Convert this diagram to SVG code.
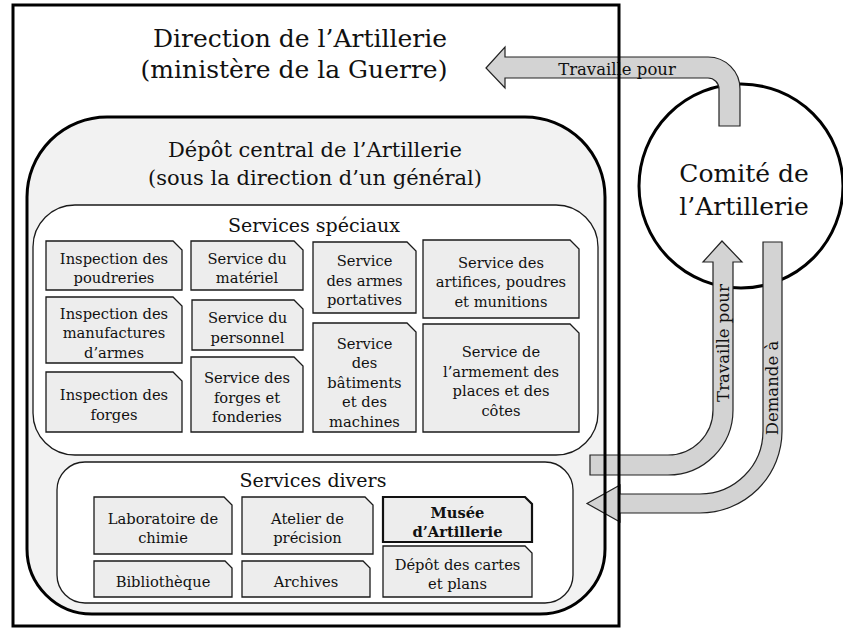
<svg xmlns="http://www.w3.org/2000/svg" width="843" height="628" viewBox="0 0 843 628">
<style>
.t{font-family:'DejaVu Serif','Liberation Serif',serif;font-size:14.7px;text-anchor:middle;fill:#111}
.b{font-weight:bold}
.h1{font-size:25px}
.h2{font-size:21px}
.h3{font-size:19px}
.al{font-size:16.5px}
.box{fill:#ededed;stroke:#1a1a1a;stroke-width:1.3}
.boxb{fill:#ededed;stroke:#111;stroke-width:2.2}
.grp{fill:#fff;stroke:#1a1a1a;stroke-width:1.3}
.arrow{fill:#d3d3d3;stroke:#222;stroke-width:1.2}
.thick{fill:none;stroke:#000;stroke-width:3}
</style>
<rect x="0" y="0" width="843" height="628" fill="#fff"/>

<g id="direction">
<rect x="13" y="5" width="606" height="621" fill="#fff"/>
<text class="t h1" x="300" y="47">Direction de l’Artillerie</text>
<text class="t h1" x="294" y="78">(ministère de la Guerre)</text>
</g>

<g id="depot-central">
<path d="M107,117 H525 A80,80 0 0 1 605,197 V549 A65,65 0 0 1 540,614 H92 A65,65 0 0 1 27,549 V197 A80,80 0 0 1 107,117 Z" fill="#f2f2f2"/>
<text class="t h2" x="315" y="157">Dépôt central de l’Artillerie</text>
<text class="t h2" x="315" y="185">(sous la direction d’un général)</text>
</g>

<g id="services-speciaux">
<rect class="grp" x="33" y="205" width="565" height="250" rx="42" ry="42"/>
<text class="t h3" x="314" y="232">Services spéciaux</text>
</g>

<g id="inspection-poudreries">
<path class="box" d="M46,241 H173 L182,250 V290 H46 Z"/>
<text class="t"><tspan x="114" y="263.5">Inspection des</tspan><tspan x="114" y="283">poudreries</tspan></text>
</g>
<g id="inspection-manufactures">
<path class="box" d="M46,297 H173 L182,306 V363 H46 Z"/>
<text class="t"><tspan x="114" y="318.5">Inspection des</tspan><tspan x="114" y="338">manufactures</tspan><tspan x="114" y="357.5">d’armes</tspan></text>
</g>
<g id="inspection-forges">
<path class="box" d="M46,372 H173 L182,381 V432 H46 Z"/>
<text class="t"><tspan x="114" y="400">Inspection des</tspan><tspan x="114" y="419.5">forges</tspan></text>
</g>
<g id="service-materiel">
<path class="box" d="M191,241 H294 L303,250 V290 H191 Z"/>
<text class="t"><tspan x="247" y="263.5">Service du</tspan><tspan x="247" y="283">matériel</tspan></text>
</g>
<g id="service-personnel">
<path class="box" d="M192,300 H294 L303,309 V350 H192 Z"/>
<text class="t"><tspan x="247.5" y="323">Service du</tspan><tspan x="247.5" y="342.5">personnel</tspan></text>
</g>
<g id="service-forges-fonderies">
<path class="box" d="M191,357 H294 L303,366 V432 H191 Z"/>
<text class="t"><tspan x="247" y="383">Service des</tspan><tspan x="247" y="402.5">forges et</tspan><tspan x="247" y="422">fonderies</tspan></text>
</g>
<g id="service-armes-portatives">
<path class="box" d="M313,242 H407 L416,251 V313 H313 Z"/>
<text class="t"><tspan x="364.5" y="266">Service</tspan><tspan x="364.5" y="285.5">des armes</tspan><tspan x="364.5" y="305">portatives</tspan></text>
</g>
<g id="service-batiments">
<path class="box" d="M313,323 H407 L416,332 V432 H313 Z"/>
<text class="t"><tspan x="364.5" y="348.5">Service</tspan><tspan x="364.5" y="368">des</tspan><tspan x="364.5" y="387.5">bâtiments</tspan><tspan x="364.5" y="407">et des</tspan><tspan x="364.5" y="426.5">machines</tspan></text>
</g>
<g id="service-artifices">
<path class="box" d="M423,240 H570 L579,249 V318 H423 Z"/>
<text class="t"><tspan x="501" y="267.5">Service des</tspan><tspan x="501" y="287">artifices, poudres</tspan><tspan x="501" y="306.5">et munitions</tspan></text>
</g>
<g id="service-armement">
<path class="box" d="M423,324 H570 L579,333 V432 H423 Z"/>
<text class="t"><tspan x="501" y="357">Service de</tspan><tspan x="501" y="376.5">l’armement des</tspan><tspan x="501" y="396">places et des</tspan><tspan x="501" y="415.5">côtes</tspan></text>
</g>

<g id="services-divers">
<rect class="grp" x="57" y="462" width="516" height="141" rx="28" ry="28"/>
<text class="t h3" x="313" y="487">Services divers</text>
</g>
<g id="laboratoire">
<path class="box" d="M94,497 H224 L232,505 V554 H94 Z"/>
<text class="t"><tspan x="163" y="523.5">Laboratoire de</tspan><tspan x="163" y="543">chimie</tspan></text>
</g>
<g id="atelier">
<path class="box" d="M242,497 H365 L373,505 V554 H242 Z"/>
<text class="t"><tspan x="307.5" y="523.5">Atelier de</tspan><tspan x="307.5" y="543">précision</tspan></text>
</g>
<g id="bibliotheque">
<path class="box" d="M94,561 H225 L232,568 V597 H94 Z"/>
<text class="t" x="163" y="587">Bibliothèque</text>
</g>
<g id="archives">
<path class="box" d="M242,561 H363 L370,568 V597 H242 Z"/>
<text class="t" x="306" y="587">Archives</text>
</g>
<g id="musee">
<path class="boxb" d="M383,497 H525 L532,504 V542 H383 Z"/>
<text class="t b"><tspan x="457.5" y="517.5">Musée</tspan><tspan x="457.5" y="537">d’Artillerie</tspan></text>
</g>
<g id="depot-cartes">
<path class="box" d="M383,546 H525 L532,553 V597 H383 Z"/>
<text class="t"><tspan x="457.5" y="570">Dépôt des cartes</tspan><tspan x="457.5" y="589">et plans</tspan></text>
</g>

<g id="comite">
<circle cx="741" cy="186" r="102" fill="#fff" stroke="#000" stroke-width="3"/>
<text class="t h1" x="744" y="182">Comité de</text>
<text class="t h1" x="744" y="215">l’Artillerie</text>
</g>

<g id="connectors">
<path class="arrow" d="M486,68 L505,47 V57 H708 A32,32 0 0 1 740,89 V126 H719 V89 A11,11 0 0 0 708,78 H505 V88 Z"/>
<text class="t al" x="617" y="75">Travaille pour</text>
<path class="arrow" d="M722,241 L742,262 H733 V410 A65,65 0 0 1 668,475 H590 V455 H668 A45,45 0 0 0 713,410 V262 H703 Z"/>
<text class="t al" x="729" y="343" transform="rotate(-90 729 343)">Travaille pour</text>
<path class="arrow" d="M763,242 H782 V431 A82,82 0 0 1 700,513 H620 V522 L587,503.5 L620,485 V494 H700 A63,63 0 0 0 763,431 Z"/>
<text class="t al" x="778" y="388" transform="rotate(-90 778 388)">Demande à</text>
</g>

<g id="frame-lines">
<path class="thick" d="M107,117 H525 A80,80 0 0 1 605,197 V549 A65,65 0 0 1 540,614 H92 A65,65 0 0 1 27,549 V197 A80,80 0 0 1 107,117 Z"/>
<rect class="thick" x="13" y="5" width="606" height="621"/>
</g>
</svg>
